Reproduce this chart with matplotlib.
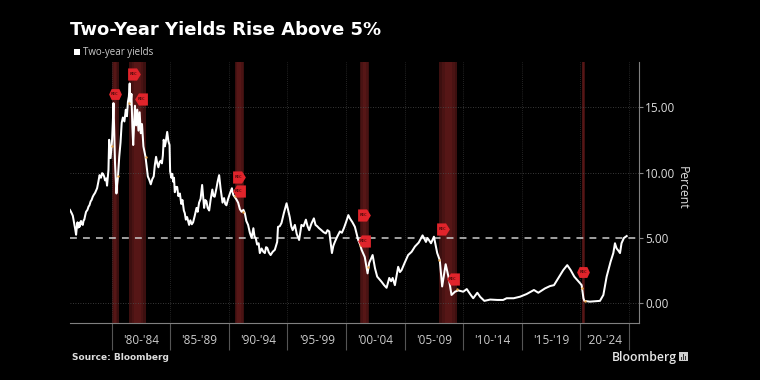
import matplotlib
matplotlib.use("Agg")
import matplotlib.pyplot as plt
from matplotlib.path import Path
from matplotlib.patches import Rectangle

# values
years = [1976.46, 1976.6, 1976.7, 1976.8, 1976.9, 1976.98, 1977.05, 1977.1, 1977.17, 1977.22, 1977.27, 1977.33, 1977.4,
         1977.48, 1977.55, 1977.62, 1977.68, 1977.75, 1977.83, 1977.95, 1978.04,
         1978.12, 1978.22, 1978.3, 1978.4, 1978.49, 1978.6, 1978.77, 1978.88, 1978.98, 1979.1, 1979.2, 1979.28, 1979.37,
         1979.45, 1979.55, 1979.62, 1979.74, 1979.8,
         1979.92, 1980.05, 1980.12, 1980.17, 1980.3, 1980.42, 1980.48, 1980.55, 1980.66, 1980.77, 1980.87, 1980.97, 1981.1,
         1981.22, 1981.32,
         1981.4, 1981.48, 1981.55, 1981.62, 1981.7, 1981.78, 1981.85, 1982.0, 1982.1, 1982.2, 1982.3, 1982.4, 1982.5,
         1982.6, 1982.72, 1982.9, 1983.1, 1983.22, 1983.35, 1983.48, 1983.6, 1983.7, 1983.8, 1983.9, 1984.0, 1984.1,
         1984.2, 1984.3, 1984.38, 1984.45, 1984.55, 1984.62,
         1984.75, 1984.85, 1984.95, 1985.0, 1985.1, 1985.18, 1985.26, 1985.33, 1985.4, 1985.5, 1985.6, 1985.7, 1985.83,
         1985.95, 1986.05, 1986.17, 1986.25, 1986.34, 1986.45, 1986.62, 1986.72, 1986.85, 1986.96, 1987.1,
         1987.25, 1987.35, 1987.47, 1987.6, 1987.73, 1987.8, 1987.9, 1988.0, 1988.1, 1988.2, 1988.33, 1988.45, 1988.6,
         1988.7, 1988.8, 1988.95, 1989.05, 1989.18, 1989.3, 1989.47, 1989.6,
         1989.7, 1989.8, 1989.95, 1990.1, 1990.27, 1990.38, 1990.5, 1990.65, 1990.8, 1990.95, 1991.1, 1991.25, 1991.37,
         1991.5, 1991.65, 1991.8, 1991.95, 1992.1, 1992.2, 1992.3, 1992.42, 1992.55,
         1992.65, 1992.8, 1992.95, 1993.08, 1993.18, 1993.28, 1993.42, 1993.57, 1993.75, 1993.93, 1994.13, 1994.2,
         1994.35, 1994.5, 1994.7, 1994.93, 1995.07, 1995.2,
         1995.33, 1995.45, 1995.64, 1995.8, 1996.0, 1996.2, 1996.38, 1996.58, 1996.72, 1996.86, 1997.05, 1997.26, 1997.4,
         1997.54, 1997.7, 1997.9, 1998.08, 1998.28, 1998.42, 1998.57,
         1998.68, 1998.8, 1998.92, 1999.05, 1999.25, 1999.48, 1999.65, 1999.82, 2000.0, 2000.2, 2000.33, 2000.55, 2000.76,
         2001.04, 2001.2, 2001.33, 2001.6, 2001.84,
         2001.98, 2002.27, 2002.47, 2002.66, 2002.85, 2003.04, 2003.25, 2003.46, 2003.69, 2003.85, 2003.98, 2004.17,
         2004.45, 2004.6, 2004.74, 2005.0,
         2005.3, 2005.6, 2005.88, 2006.2, 2006.53, 2006.82, 2006.95, 2007.07, 2007.25, 2007.5, 2007.78, 2008.0, 2008.2, 2008.5,
         2008.75, 2009.0, 2009.3, 2009.57, 2010.0, 2010.3, 2010.6, 2010.85, 2011.2, 2011.45, 2011.8, 2012.3,
         2012.9, 2013.4, 2013.7, 2014.3, 2014.85, 2015.4, 2016.03, 2016.4, 2016.97, 2017.4, 2017.74, 2018.1,
         2018.53, 2018.87, 2019.16, 2019.47, 2019.72, 2019.96, 2020.1, 2020.25, 2020.33, 2020.8, 2021.66,
         2021.95, 2022.23, 2022.57, 2022.8, 2022.94, 2023.08, 2023.22, 2023.37, 2023.5, 2023.7, 2023.94]
yields = [7.14, 6.9, 6.7, 6.2, 5.7, 5.25, 5.9, 6.2, 5.8, 6.15, 5.85, 6.2, 6.3,
          6.05, 6.0, 6.35, 6.4, 6.7, 7.0, 7.15, 7.4,
          7.5, 7.8, 7.9, 8.15, 8.3, 8.45, 8.8, 9.3, 9.8, 9.6, 9.95, 9.9, 9.7,
          9.4, 9.55, 9.0, 10.2, 12.5,
          11.1, 12.5, 14.0, 15.3, 10.7, 8.4, 9.1, 9.65, 11.2, 12.3, 13.8, 14.2, 13.9,
          14.8, 14.3,
          15.4, 15.8, 16.8, 15.2, 16.0, 13.5, 12.1, 15.1, 13.6, 14.8, 13.2, 14.6, 13.0,
          13.7, 12.0, 11.2, 9.7, 9.45, 9.1, 9.5, 9.7, 10.6, 11.2, 10.7, 10.4, 10.8,
          10.9, 10.7, 11.3, 12.5, 12.0, 12.3,
          13.1, 12.4, 12.1, 10.1, 9.6, 9.9, 9.3, 9.6, 8.5, 8.9, 8.9, 8.2, 8.4,
          7.6, 7.9, 7.1, 6.9, 6.4, 6.6, 6.0, 6.35, 6.05, 6.2, 6.7,
          7.3, 7.0, 7.7, 8.0, 9.05, 8.3, 7.3, 7.9, 7.8, 7.3, 7.1, 7.9, 8.7,
          8.2, 8.15, 8.8, 9.3, 9.8, 8.8, 7.7, 8.05,
          7.6, 7.5, 8.0, 8.4, 8.8, 8.3, 8.15, 7.95, 7.7, 7.2, 7.0, 7.15, 6.9,
          6.3, 6.0, 5.4, 5.0, 5.75, 5.1, 5.0, 4.5, 4.6,
          3.85, 4.2, 3.95, 3.85, 4.3, 4.25, 3.9, 3.7, 3.95, 4.1, 4.7, 5.85,
          5.9, 6.15, 6.9, 7.65, 7.1, 6.6,
          5.9, 5.6, 6.0, 5.3, 4.85, 6.0, 5.9, 6.4, 5.9, 5.6, 6.1, 6.5, 6.0,
          5.9, 5.75, 5.6, 5.45, 5.35, 5.6, 5.5,
          4.7, 3.85, 4.4, 4.7, 5.1, 5.5, 5.4, 5.75, 6.2, 6.75, 6.5, 6.2, 5.85,
          4.85, 4.5, 4.1, 3.55, 2.3,
          3.1, 3.7, 2.7, 2.05, 1.85, 1.65, 1.4, 1.2, 1.95, 1.7, 1.95, 1.4,
          2.8, 2.4, 2.55, 3.1,
          3.7, 3.95, 4.35, 4.65, 5.2, 4.7, 5.0, 4.85, 4.6, 5.1, 3.85, 3.3, 1.3, 3.0,
          2.0, 0.65, 0.9, 1.0, 0.9, 1.1, 0.7, 0.4, 0.82, 0.5, 0.2, 0.3,
          0.27, 0.27, 0.4, 0.4, 0.52, 0.72, 1.03, 0.82, 1.15, 1.33, 1.4, 1.92,
          2.55, 2.93, 2.55, 2.05, 1.8, 1.55, 1.4, 0.4, 0.2, 0.14, 0.2,
          0.65, 2.05, 3.2, 3.85, 4.6, 4.2, 4.05, 3.85, 4.6, 5.0, 5.15]

band_start = [1980.0, 1981.5, 1990.5, 2001.2, 2007.95, 2020.1]
band_end = [1980.6, 1982.9, 1991.3, 2001.95, 2009.5, 2020.35]

badge_years = [1980.28, 1981.88, 1982.55, 1990.85, 1990.85, 2001.5, 2001.5, 2008.25, 2009.1, 2020.22]
badge_pct = [16.0, 17.5, 15.6, 9.65, 8.6, 6.75, 4.8, 5.65, 1.9, 2.4]
badge_kind = ["hex", "right", "left", "right", "left", "right", "left", "right", "left", "hex"]

dot_years = [1980.0, 1980.55, 1981.5, 1982.9, 1990.5, 1991.2, 2001.2, 2001.9, 2007.95, 2009.5, 2020.1, 2020.35]
dot_pct = [12.0, 9.7, 15.3, 11.2, 8.2, 7.0, 4.5, 2.8, 3.3, 1.1, 1.2, 0.2]

y_ticks = [0, 5, 10, 15]
y_labels = ["0.00", "5.00", "10.00", "15.00"]
x_ticks = [1980, 1985, 1990, 1995, 2000, 2005, 2010, 2015, 2020, 2024.1]
x_labels = ["'80-'84", "'85-'89", "'90-'94", "'95-'99", "'00-'04", "'05-'09", "'10-'14", "'15-'19", "'20-'24"]

markers = {
    "right": Path([(-1, -.95), (.4, -.95), (1, 0), (.4, .95), (-1, .95), (-1, -.95)], closed=True),
    "left": Path([(1, -.95), (-.4, -.95), (-1, 0), (-.4, .95), (1, .95), (1, -.95)], closed=True),
    "hex": Path([(-1, 0), (-.6, -.85), (.6, -.85), (1, 0), (.6, .85), (-.6, .85), (-1, 0)], closed=True),
}

plt.rcParams['font.family'] = ['Open Sans', 'DejaVu Sans']
fig = plt.figure(figsize=(7.6, 3.8), dpi=100, facecolor='black')
ax = fig.add_axes([70 / 760, 1 - 323 / 380, 569 / 760, 261 / 380], facecolor='black')

for s, e in zip(band_start, band_end):
    ax.axvspan(s, e, color='#3c0f0f', lw=0, zorder=1)
    for f, c in zip([0.15, 0.3], ['#4a1313', '#561616']):
        w = (e - s) * f
        ax.axvspan(s + w, e - w, color=c, lw=0, zorder=1)

ax.grid(axis='x', color='#444444', lw=0.5, ls=(0, (1, 2)), zorder=2)
for v in [0, 10, 15]:
    ax.axhline(v, color='#4d4d4d', lw=0.6, ls=(0, (1, 2)), zorder=2)
ax.axhline(5, color='#cccccc', lw=1.1, ls=(0, (4.5, 4)), zorder=3)

ax.plot(years, yields, color='white', lw=1.45, solid_joinstyle='round', zorder=5)
ax.scatter(dot_years, dot_pct, s=3, color='#e8a54a', lw=0, zorder=6)

for x, y, k in zip(badge_years, badge_pct, badge_kind):
    ax.scatter([x], [y], marker=markers[k], s=85, color='#e0242b', lw=0, zorder=7)
    ax.text(x, y, "REC", color='#5a0c0c', fontsize=3, fontweight='bold', ha='center', va='center', zorder=8)

ax.set_xlim(1976.46, 2024.99)
ax.set_ylim(-1.49, 18.44)
ax.set_xticks(x_ticks)
ax.set_xticklabels([])
ax.set_yticks(y_ticks)
ax.set_yticklabels(y_labels, color='#dddddd', fontsize=8.5)
ax.yaxis.tick_right()
ax.tick_params(axis='y', length=3, width=0.8, color='#888888', pad=1.5)
ax.tick_params(axis='x', length=19.5, width=0.8, color='#555555')
ax.spines['top'].set_visible(False)
ax.spines['left'].set_visible(False)
ax.spines['bottom'].set_color('#808080')
ax.spines['right'].set_color('#808080')

for i, lab in enumerate(x_labels):
    mid = (x_ticks[i] + x_ticks[i + 1]) / 2
    ax.annotate(lab, (mid, 0), xycoords=('data', 'axes fraction'), xytext=(0, -18),
                textcoords='offset pixels', color='#cccccc', fontsize=8.5,
                ha='center', va='center')

fig.text(682 / 760, 1 - 188 / 380, "Percent", color='#dddddd', fontsize=8.8, rotation=270, ha='center', va='center')
fig.text(70 / 760, 1 - 30 / 380, "Two-Year Yields Rise Above 5%", color='white', fontsize=13,
         fontweight='bold', family='DejaVu Sans', ha='left', va='center')
fig.add_artist(Rectangle((74 / 760, 1 - 55 / 380), 6 / 760, 6 / 380, color='white', lw=0, transform=fig.transFigure))
fig.text(83 / 760, 1 - 52 / 380, "Two-year yields", color='#cccccc', fontsize=7, ha='left', va='center')
fig.text(72 / 760, 1 - 358 / 380, "Source: Bloomberg", color='#dddddd', fontsize=6.5, fontweight='bold',
         family='DejaVu Sans', ha='left', va='center')
fig.text(612 / 760, 1 - 357 / 380, "Bloomberg", color='#e6e6e6', fontsize=8.8, fontweight='semibold',
         ha='left', va='center')
fig.add_artist(Rectangle((679 / 760, 1 - 361 / 380), 9 / 760, 9 / 380, color='#cfcfcf', lw=0, transform=fig.transFigure))
for bx, bh in zip([681, 683, 685], [3, 6, 4]):
    fig.add_artist(Rectangle((bx / 760, 1 - 359.5 / 380), 1.2 / 760, bh / 380, color='#333333', lw=0, transform=fig.transFigure))

fig.savefig('out.png', dpi=100, facecolor='black')
